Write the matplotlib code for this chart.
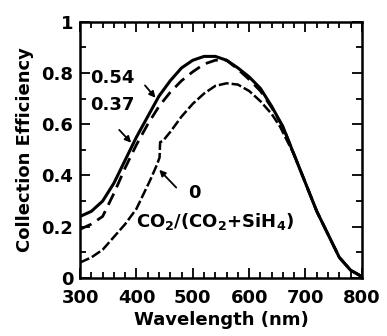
import numpy as np
import matplotlib
matplotlib.use('Agg')
import matplotlib.pyplot as plt
from matplotlib.ticker import MultipleLocator

plt.rcParams['font.family'] = ['DejaVu Sans']
plt.rcParams['font.weight'] = 'bold'
plt.rcParams['mathtext.fontset'] = 'dejavusans'

### data
# CO2/(CO2+SiH4) = 0.54 (solid)
wl_054 = [300, 320, 340, 360, 380, 400, 420, 440, 460, 480, 500, 520, 540, 560,
          580, 600, 620, 640, 660, 680, 700, 720, 740, 760, 780, 800]
eff_054 = [0.24, 0.26, 0.30, 0.37, 0.46, 0.55, 0.63, 0.71, 0.77, 0.82, 0.85, 0.865, 0.865, 0.85,
           0.82, 0.785, 0.74, 0.67, 0.59, 0.48, 0.37, 0.26, 0.17, 0.08, 0.03, 0.005]

# 0.37 (dashed)
wl_037 = [300, 320, 340, 360, 380, 400, 420, 440, 460, 480, 500, 520, 540, 560,
          580, 600, 620, 640, 660, 680, 700, 720, 740, 760, 780, 800]
eff_037 = [0.19, 0.21, 0.24, 0.33, 0.43, 0.52, 0.60, 0.67, 0.725, 0.77, 0.805, 0.835, 0.85, 0.85,
           0.815, 0.775, 0.73, 0.665, 0.59, 0.48, 0.37, 0.26, 0.17, 0.08, 0.03, 0.005]

# 0 (fine dashed)
wl_0 = [300, 320, 340, 360, 380, 400, 424, 436, 441, 442, 447, 460, 480, 500, 520, 540,
        560, 580, 600, 620, 640, 655, 680, 700, 720, 740, 760, 780, 800]
eff_0 = [0.06, 0.08, 0.11, 0.16, 0.21, 0.27, 0.38, 0.44, 0.47, 0.53, 0.535, 0.57, 0.63, 0.68, 0.72, 0.75,
         0.76, 0.755, 0.73, 0.69, 0.64, 0.59, 0.48, 0.37, 0.26, 0.17, 0.08, 0.03, 0.005]

fig = plt.figure(figsize=(3.87, 3.36), dpi=100)
ax = fig.add_axes([0.207, 0.173, 0.728, 0.762])

ax.plot(wl_054, eff_054, color='black', lw=2.2)
ax.plot(wl_037, eff_037, color='black', lw=2.0, dashes=(4.5, 2.5))
ax.plot(wl_0, eff_0, color='black', lw=1.8, dashes=(4, 1.2))

ax.set_xlim(300, 800)
ax.set_ylim(0, 1)
ax.xaxis.set_major_locator(MultipleLocator(100))
ax.xaxis.set_minor_locator(MultipleLocator(20))
ax.yaxis.set_minor_locator(MultipleLocator(0.1))
ax.set_yticks([0, 0.2, 0.4, 0.6, 0.8, 1.0])
ax.set_yticklabels(['0', '0.2', '0.4', '0.6', '0.8', '1'])

for s in ax.spines.values():
    s.set_linewidth(1.8)
ax.tick_params(which='both', direction='in', top=True, right=True, width=1.3, labelsize=13)
ax.tick_params(which='major', length=7)
ax.tick_params(which='minor', length=4.5)
ax.tick_params(axis='x', pad=8)
ax.tick_params(axis='y', pad=5)

ax.set_xlabel('Wavelength (nm)', fontsize=13, fontweight='bold', labelpad=3)
ax.set_ylabel('Collection Efficiency', fontsize=13, fontweight='bold', labelpad=5)

ax.text(318, 0.78, '0.54', fontsize=13, fontweight='bold', va='center')
ax.text(318, 0.675, '0.37', fontsize=13, fontweight='bold', va='center')
ax.annotate('', xy=(437, 0.695), xytext=(412, 0.76),
            arrowprops=dict(arrowstyle='-|>', color='black', lw=1.3, mutation_scale=9))
ax.annotate('', xy=(394, 0.52), xytext=(366, 0.586),
            arrowprops=dict(arrowstyle='-|>', color='black', lw=1.3, mutation_scale=9))
ax.text(492, 0.33, '0', fontsize=13, fontweight='bold', va='center')
ax.annotate('', xy=(437, 0.43), xytext=(474, 0.345),
            arrowprops=dict(arrowstyle='-|>', color='black', lw=1.3, mutation_scale=9))
ax.text(400, 0.22, r'CO$_\mathbf{2}$/(CO$_\mathbf{2}$+SiH$_\mathbf{4}$)',
        fontsize=13, fontweight='bold', va='center')

fig.savefig('out.png', dpi=100)
